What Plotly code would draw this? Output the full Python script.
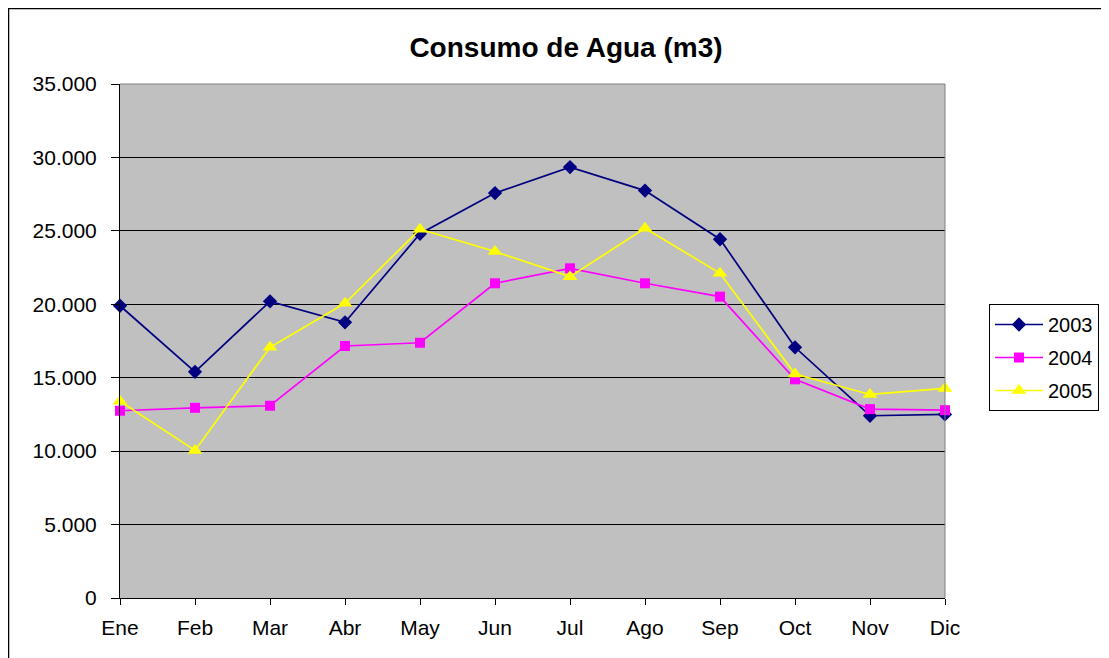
import plotly.graph_objects as go

months = ["Ene", "Feb", "Mar", "Abr", "May", "Jun", "Jul", "Ago", "Sep", "Oct", "Nov", "Dic"]
v2003 = [19900, 15400, 20200, 18770, 24800, 27570, 29340, 27740, 24430, 17070, 12410, 12500]
v2004 = [12750, 12950, 13090, 17160, 17380, 21430, 22450, 21430, 20520, 14890, 12860, 12790]
v2005 = [13400, 10050, 17070, 20070, 25110, 23590, 21880, 25180, 22110, 15250, 13860, 14270]
y_ticks = [0, 5000, 10000, 15000, 20000, 25000, 30000, 35000]

series = [
    ("2003", v2003, "#000080", "diamond", 11),
    ("2004", v2004, "#FF00FF", "square", 10),
    ("2005", v2005, "#FFFF00", "triangle-up", 13),
]

fig = go.Figure()
xs = list(range(len(months)))
for name, vals, col, sym, sz in series:
    fig.add_trace(go.Scatter(
        x=xs, y=vals, name=name, legendgroup=name, mode="lines+markers",
        line=dict(color=col, width=1.7),
        marker=dict(symbol=sym, size=sz, color=col, line=dict(width=0)),
        cliponaxis=False,
    ))

# figure is placed at page offset 8px (body margin)
OFF = 8
W, H = 1109 - OFF, 658 - OFF
L, R, T, B = 120 - OFF, 164, 84 - OFF, 60
pw, ph = W - L - R, H - T - B

def px(x):  # page pixel -> paper x
    return (x - OFF - L) / pw

def py(y):  # page pixel -> paper y
    return (H - B - (y - OFF)) / ph

fig.update_layout(
    width=W, height=H,
    margin=dict(l=L, r=R, t=T, b=B, autoexpand=False),
    paper_bgcolor="white",
    plot_bgcolor="#C0C0C0",
    separators=",.",
    font=dict(family="Liberation Sans, Arial, sans-serif", size=21, color="black"),
    title=dict(text="<b>Consumo de Agua (m3)</b>", x=(566 - OFF) / W, xanchor="center",
               y=1 - (47 - OFF) / H, yanchor="middle", font=dict(size=28)),
    showlegend=True,
    legend=dict(x=px(989), xanchor="left", y=py(304), yanchor="top",
                bordercolor="black", borderwidth=1, bgcolor="white",
                font=dict(size=20), tracegroupgap=4, itemwidth=48),
    xaxis=dict(
        range=[0, 11], tickmode="array", tickvals=xs, ticktext=months,
        showgrid=False, zeroline=False, showline=True, linecolor="black", linewidth=1,
        ticks="outside", ticklen=6, tickcolor="black", fixedrange=True,
        ticklabelstandoff=5, automargin=False,
    ),
    yaxis=dict(
        range=[0, 35000], tickmode="array", tickvals=y_ticks, tickformat=",d",
        showgrid=True, gridcolor="black", gridwidth=1, zeroline=False,
        showline=True, linecolor="black", linewidth=1,
        ticks="outside", ticklen=8, tickcolor="black", fixedrange=True,
        ticklabelstandoff=10, automargin=False,
    ),
    shapes=[
        dict(type="line", xref="paper", yref="paper", x0=0, x1=1, y0=1, y1=1,
             line=dict(color="#808080", width=1)),
        dict(type="line", xref="paper", yref="paper", x0=1, x1=1, y0=0, y1=1,
             line=dict(color="#808080", width=1)),
        dict(type="rect", xref="paper", yref="paper", x0=px(8.5), x1=px(1108.5),
             y0=py(670), y1=py(8.5), line=dict(color="black", width=1.5),
             fillcolor="rgba(0,0,0,0)", layer="below"),
    ],
)

fig.write_html("out.html")
